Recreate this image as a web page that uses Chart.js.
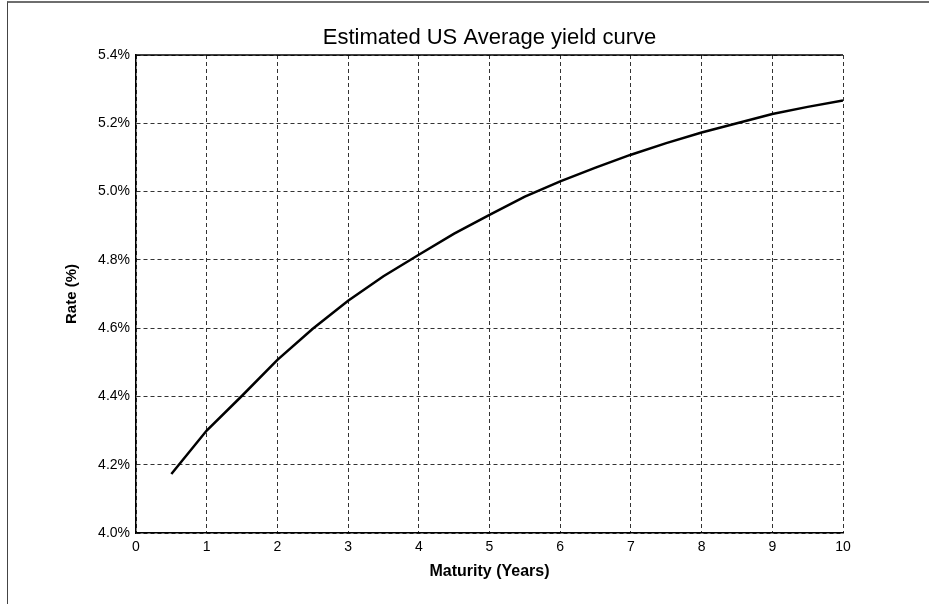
<!DOCTYPE html>
<html lang="en">
<head>
    <meta charset="UTF-8">
    <title>Estimated US Average yield curve</title>
    <style>
        body {
            margin: 0;
            background: #fff;
            font-family: "Liberation Sans", Arial, sans-serif;
        }
        .frame {
            position: absolute;
            top: 1px;
            left: 7px;
            width: 922px;
            height: 603px;
            border-top: 2px solid #6e6e6e;
            border-left: 1px solid #444;
        }
        .chart-box {
            position: absolute;
            top: 0;
            left: 0;
            width: 929px;
            height: 604px;
        }
    </style>
    <script src="https://cdn.jsdelivr.net/npm/chart.js"></script>
</head>
<body>
    <div class="frame"></div>
    <div class="chart-box">
        <canvas id="yieldChart" width="929" height="604"></canvas>
    </div>
    <script>
        // maturity in years, rate in %
        const maturities = [0.5, 1, 1.5, 2, 2.5, 3, 3.5, 4, 4.5, 5, 5.5, 6, 6.5, 7, 7.5, 8, 8.5, 9, 9.5, 10];
        const rates = [4.173, 4.300, 4.402, 4.507, 4.598, 4.680, 4.752, 4.815, 4.877, 4.932,
                       4.985, 5.030, 5.070, 5.108, 5.142, 5.173, 5.200, 5.227, 5.248, 5.267];
        const xTicks = [0, 1, 2, 3, 4, 5, 6, 7, 8, 9, 10];
        const yTicks = [4.0, 4.2, 4.4, 4.6, 4.8, 5.0, 5.2, 5.4];

        const font = "'Liberation Sans', Arial, sans-serif";

        // solid line along the top of the plot box
        const topBorder = {
            id: 'topBorder',
            afterDraw(chart) {
                const { ctx, chartArea } = chart;
                ctx.save();
                ctx.strokeStyle = '#000';
                ctx.lineWidth = 1.5;
                ctx.beginPath();
                ctx.moveTo(chartArea.left, chartArea.top);
                ctx.lineTo(chartArea.right, chartArea.top);
                ctx.stroke();
                ctx.restore();
            }
        };

        new Chart(document.getElementById('yieldChart'), {
            type: 'line',
            data: {
                datasets: [{
                    xAxisID: 'x',
                    data: maturities.map((m, i) => ({ x: m, y: rates[i] })),
                    borderColor: '#000',
                    borderWidth: 2.5,
                    pointRadius: 0,
                    tension: 0,
                    fill: false
                }]
            },
            options: {
                responsive: false,
                animation: false,
                layout: { padding: { left: 0, right: 86, top: 0, bottom: 0 } },
                plugins: {
                    legend: { display: false },
                    tooltip: { enabled: false }
                },
                scales: {
                    // top axis only carries the title, so it centres over the plot
                    top: {
                        type: 'linear',
                        position: 'top',
                        min: 0,
                        max: 10,
                        afterFit(scale) { scale.height = 55; },
                        ticks: { display: false },
                        grid: { display: false, drawTicks: false },
                        border: { display: false },
                        title: {
                            display: true,
                            text: 'Estimated US Average yield curve',
                            color: '#000',
                            font: { family: font, size: 22, weight: 'normal' },
                            padding: { top: 25, bottom: 0 }
                        }
                    },
                    x: {
                        type: 'linear',
                        position: 'bottom',
                        min: 0,
                        max: 10,
                        afterFit(scale) { scale.height = 71; },
                        afterBuildTicks(scale) { scale.ticks = xTicks.map(v => ({ value: v })); },
                        ticks: {
                            color: '#000',
                            font: { family: font, size: 14 },
                            padding: 6,
                            maxRotation: 0,
                            callback: v => String(v)
                        },
                        grid: { color: '#333', lineWidth: 1, drawTicks: false },
                        border: { display: true, color: '#000', width: 1.5, dash: [4, 3] },
                        title: {
                            display: true,
                            text: 'Maturity (Years)',
                            color: '#000',
                            font: { family: font, size: 16, weight: 'bold' },
                            padding: { top: 0, bottom: 23 }
                        }
                    },
                    y: {
                        type: 'linear',
                        min: 4.0,
                        max: 5.4,
                        afterFit(scale) { scale.width = 136; },
                        afterBuildTicks(scale) { scale.ticks = yTicks.map(v => ({ value: v })); },
                        ticks: {
                            color: '#000',
                            font: { family: font, size: 14 },
                            padding: 6,
                            callback: v => v.toFixed(1) + '%'
                        },
                        grid: { color: '#333', lineWidth: 1, drawTicks: false },
                        border: { display: true, color: '#000', width: 1.5, dash: [4, 3] },
                        title: {
                            display: true,
                            text: 'Rate (%)',
                            color: '#000',
                            font: { family: font, size: 15, weight: 'bold' },
                            padding: { top: 63, bottom: 0 }
                        }
                    }
                }
            },
            plugins: [topBorder]
        });
    </script>
</body>
</html>
